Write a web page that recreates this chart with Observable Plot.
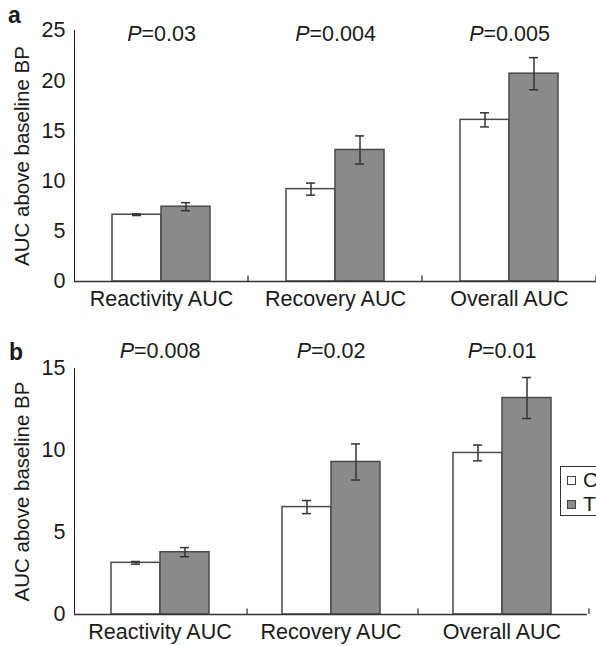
<!DOCTYPE html>
<html><head><meta charset="utf-8">
<script src="https://cdn.jsdelivr.net/npm/d3@7"></script>
<script src="https://cdn.jsdelivr.net/npm/@observablehq/plot@0.6"></script>
<style>
body{margin:0;background:#fff;font-family:"Liberation Sans",Arial,sans-serif;color:#1a1a1a;}
#wrap{position:relative;width:596px;height:646px;overflow:hidden;background:#fff;}
.panel{position:absolute;left:0;}
.letter{position:absolute;font-weight:bold;font-size:23px;line-height:1;}
.legend{position:absolute;left:560px;top:466px;width:80px;height:48px;border:1.5px solid #333;background:#fff;font-size:21px;}
.legend div{position:absolute;left:6px;display:flex;align-items:center;height:22px;}
.legend span.sw{display:inline-block;width:7px;height:7px;border:1.2px solid #444;margin-right:7px;}
</style></head><body>
<div id="wrap">
  <div class="panel" id="pa" style="top:0"></div>
  <div class="panel" id="pb" style="top:320px"></div>
  <div class="letter" style="left:8px;top:4px">a</div>
  <div class="letter" style="left:9px;top:341px">b</div>
  <div class="legend" id="legend"></div>
</div>
<script>
const categories = ["Reactivity AUC", "Recovery AUC", "Overall AUC"];
const groups = ["Control", "TT"];
const yTitle = "AUC above baseline BP";

const aControl = [6.65, 9.2, 16.1];
const aControlErr = [0.08, 0.6, 0.7];
const aTreated = [7.45, 13.1, 20.7];
const aTreatedErr = [0.4, 1.4, 1.6];
const aPValues = ["P=0.03", "P=0.004", "P=0.005"];
const aYTicks = [0, 5, 10, 15, 20, 25];

const bControl = [3.15, 6.55, 9.85];
const bControlErr = [0.08, 0.4, 0.48];
const bTreated = [3.8, 9.3, 13.2];
const bTreatedErr = [0.28, 1.1, 1.25];
const bPValues = ["P=0.008", "P=0.02", "P=0.01"];
const bYTicks = [0, 5, 10, 15];

const fills = ["#ffffff", "#8a8a8a"];

function panel(o) {
  const rows = [];
  categories.forEach((c, i) => {
    rows.push({category: c, group: groups[0], value: o.control[i], err: o.controlErr[i]});
    rows.push({category: c, group: groups[1], value: o.treated[i], err: o.treatedErr[i]});
  });
  const labels = categories.map((c, i) => ({category: c, label: o.pvals[i]}));
  const ymax = o.ticks[o.ticks.length - 1];
  const facetW = (596 - 73 - o.marginRight) / 3;
  const pOuter = (facetW / 50 - 2) / 2;
  const plot = Plot.plot({
    width: 596, height: o.height,
    marginLeft: 73, marginRight: o.marginRight, marginTop: o.marginTop, marginBottom: o.marginBottom,
    style: {fontFamily: "'Liberation Sans', Arial, sans-serif", fontSize: "21.5px", color: "#1a1a1a", background: "transparent", overflow: "visible"},
    fx: {domain: categories, paddingInner: 0, paddingOuter: 0, label: null, axis: "bottom", tickSize: 0, tickPadding: 9},
    x: {domain: groups, paddingInner: 0, paddingOuter: pOuter, axis: null},
    y: {domain: [0, ymax], ticks: o.ticks, tickSize: 0, tickPadding: 9, line: true, label: yTitle, labelArrow: "none", labelAnchor: "center", labelOffset: 60},
    color: {domain: groups, range: fills},
    marks: [
      Plot.barY(rows, {fx: "category", x: "group", y: "value", fill: "group", stroke: "#4a4a4a", strokeWidth: 1.5}),
      Plot.ruleX(rows, {fx: "category", x: "group", y1: d => d.value - d.err, y2: d => d.value + d.err, stroke: "#333", strokeWidth: 1.5}),
      Plot.tickY(rows, {fx: "category", x: "group", y: d => d.value - d.err, insetLeft: 20, insetRight: 20, stroke: "#333", strokeWidth: 1.5}),
      Plot.tickY(rows, {fx: "category", x: "group", y: d => d.value + d.err, insetLeft: 20, insetRight: 20, stroke: "#333", strokeWidth: 1.5}),
      Plot.ruleY([0], {stroke: "#333", strokeWidth: 1.3}),
      Plot.ruleX([groups[1]], {x: d => d, dx: 62, y1: 0, y2: ymax * 0.022, stroke: "#333", strokeWidth: 1.3}),
      Plot.text(labels, {fx: "category", text: "label", frameAnchor: "top", lineAnchor: "middle", dy: o.pdy, fontSize: 21.5, fill: "#1a1a1a"})
    ]
  });
  plot.querySelectorAll("text").forEach(t => {
    const s = t.textContent;
    if (s === yTitle) t.setAttribute("font-size", "20.5");
    if (s.startsWith("P=") && t.children.length === 0) {
      t.textContent = "";
      const ts = document.createElementNS("http://www.w3.org/2000/svg", "tspan");
      ts.setAttribute("font-style", "italic");
      ts.textContent = "P";
      t.appendChild(ts);
      t.appendChild(document.createTextNode(s.slice(1)));
    }
  });
  return plot;
}

document.getElementById("pa").appendChild(panel({
  control: aControl, controlErr: aControlErr, treated: aTreated, treatedErr: aTreatedErr,
  pvals: aPValues, ticks: aYTicks, height: 320, marginTop: 30, marginBottom: 39, marginRight: 0, pdy: 3.5
}));
document.getElementById("pb").appendChild(panel({
  control: bControl, controlErr: bControlErr, treated: bTreated, treatedErr: bTreatedErr,
  pvals: bPValues, ticks: bYTicks, height: 326, marginTop: 48, marginBottom: 32, marginRight: 9, pdy: -17
}));

const legend = document.getElementById("legend");
groups.forEach((g, i) => {
  const row = document.createElement("div");
  row.style.top = (2 + i * 24) + "px";
  const sw = document.createElement("span");
  sw.className = "sw";
  sw.style.background = fills[i];
  row.appendChild(sw);
  row.appendChild(document.createTextNode(g));
  legend.appendChild(row);
});
</script>
</body></html>
